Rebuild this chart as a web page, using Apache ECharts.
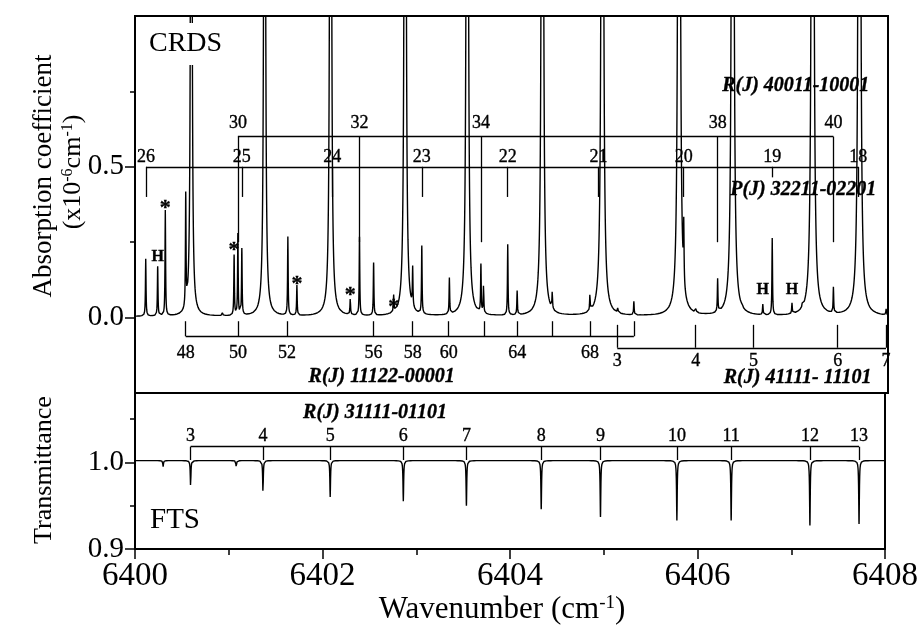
<!DOCTYPE html>
<html><head><meta charset="utf-8">
<script src="https://cdn.jsdelivr.net/npm/echarts@6/dist/echarts.min.js"></script>
<style>html,body{margin:0;padding:0;background:#fff}#c{width:921px;height:626px}</style>
</head><body><div id="c"></div>
<script>
// ================= DATA =================
// CRDS strong lines (off scale) : wavenumber (cm-1), estimated peak absorption
const crdsStrongPos = [6400.598, 6401.377, 6402.078, 6402.870, 6403.530, 6404.328, 6404.965, 6405.780, 6406.350, 6407.199, 6407.696];
const crdsStrongHeight = [4.2, 5.2, 5.9, 6.6, 7.3, 7.8, 9.0, 9.7, 9.7, 10.5, 10.2];
// CRDS weaker lines : wavenumber, peak absorption (x1e-6 cm-1)
const crdsWeakPos = [6400.114, 6400.241, 6400.322, 6400.539, 6400.930, 6401.053, 6401.093, 6401.135,
  6401.624, 6401.720, 6402.287, 6402.385, 6402.535, 6402.748, 6402.950, 6403.047, 6403.340, 6403.675,
  6403.703, 6403.960, 6404.060, 6404.433, 6404.833, 6405.130, 6405.300, 6405.830, 6405.960, 6406.190,
  6406.450, 6406.670, 6406.770, 6406.980, 6407.090, 6407.420, 6407.980];
const crdsWeakHeight = [0.19, 0.164, 0.35, 0.37, 0.012, 0.20, 0.27, 0.22,
  0.26, 0.10, 0.055, 0.26, 0.175, 0.055, 0.13, 0.225, 0.12, 0.16,
  0.095, 0.235, 0.08, 0.058, 0.055, 0.018, 0.045, 0.19, 0.015, 0.11,
  0.015, 0.035, 0.255, 0.035, 0.015, 0.085, 0.02];
const crdsBaseline = 0.004;

// FTS transmittance dips : wavenumber, minimum transmittance
const ftsDipPos = [6400.300, 6400.593, 6401.080, 6401.365, 6402.082, 6402.862, 6403.535, 6404.333, 6404.965, 6405.780, 6406.359, 6407.199, 6407.723];
const ftsDipMin = [0.995, 0.972, 0.994, 0.965, 0.960, 0.955, 0.950, 0.946, 0.937, 0.933, 0.933, 0.927, 0.929];
const ftsBaseline = 1.002;

// Assignment combs
const r40011J = ['30', '32', '34', '38', '40'];
const r40011Pos = [6401.093, 6402.385, 6403.675, 6406.190, 6407.420];
const p32211J = ['26', '25', '24', '23', '22', '21', '20', '19', '18'];
const p32211Pos = [6400.117, 6401.135, 6402.095, 6403.047, 6403.960, 6404.925, 6405.830, 6406.770, 6407.683];
const r11122J = ['48', '50', '52', '56', '58', '60', '', '64', '', '68', ''];
const r11122Pos = [6400.539, 6401.093, 6401.614, 6402.535, 6402.950, 6403.333, 6403.706, 6404.060, 6404.433, 6404.833, 6405.300];
const r41111J = ['3', '4', '5', '6', '7'];
const r41111Pos = [6405.124, 6405.957, 6406.571, 6407.465, 6407.979];
const r31111J = ['3', '4', '5', '6', '7', '8', '9', '10', '11', '12', '13'];
const r31111Pos = [6400.593, 6401.365, 6402.082, 6402.862, 6403.535, 6404.333, 6404.965, 6405.780, 6406.359, 6407.199, 6407.723];

// Band titles
const topTitles = ['R(J) 40011-10001', 'P(J) 32211-02201', 'R(J) 11122-00001', 'R(J) 41111- 11101'];
const topTitleX = [6407.02, 6407.10, 6402.62, 6407.04];
const topTitleY = [0.768, 0.423, -0.198, -0.200];
const ftsTitle = 'R(J) 31111-01101';
const ftsTitleX = 6402.56, ftsTitleY = 1.057;

// Markers (* impurity, H hot lines)
const starPos = [6400.322, 6401.053, 6401.720, 6402.287, 6402.748];
const starY = [0.377, 0.235, 0.125, 0.086, 0.049];
const hPos = [6400.241, 6406.670, 6406.980];
const hY = [0.200, 0.0925, 0.0925];

// ================= BUILD =================
const FONT = 'Liberation Serif';
const G_STRONG = 0.006, G_WEAK = 0.0036, G_FTS = 0.004;
function lor(x, p, g) { const d = x - p; return g * g / (d * d + g * g); }

let xs = [];
for (let i = 0; i <= 4000; i++) xs.push(+(6400 + i * 0.002).toFixed(4));
xs = xs.concat(crdsStrongPos, crdsWeakPos, ftsDipPos);
xs.sort((a, b) => a - b);
xs = xs.filter((v, i) => i === 0 || v - xs[i - 1] > 1e-7);

const crdsData = xs.map(x => {
  let y = crdsBaseline;
  for (let i = 0; i < crdsStrongPos.length; i++) y += crdsStrongHeight[i] * lor(x, crdsStrongPos[i], G_STRONG);
  for (let i = 0; i < crdsWeakPos.length; i++) y += crdsWeakHeight[i] * lor(x, crdsWeakPos[i], G_WEAK);
  return [x, y];
});
const ftsData = xs.map(x => {
  let y = ftsBaseline;
  for (let i = 0; i < ftsDipPos.length; i++) y -= (ftsBaseline - ftsDipMin[i]) * lor(x, ftsDipPos[i], G_FTS);
  return [x, y];
});

// comb geometry in data units
function comb(pos, bar, tickEnd, tickFn) {
  const segs = [[{ coord: [pos[0], bar] }, { coord: [pos[pos.length - 1], bar] }]];
  pos.forEach((p, i) => segs.push([{ coord: [p, bar] }, { coord: [p, tickFn ? tickFn(i) : tickEnd] }]));
  return segs;
}
const topSegs = [].concat(
  comb(r40011Pos, 0.6, 0.25),
  comb(p32211Pos, 0.5, 0.4, i => p32211J[i] === '19' ? 0.465 : 0.4),
  comb(r11122Pos, -0.062, -0.012),
  comb(r41111Pos, -0.1, -0.024)
);
const botSegs = comb(r31111Pos, 1.018, 1.0027);

function labelPts(names, pos, y) { return names.map((n, i) => ({ name: n, value: [pos[i], y] })); }
const numLabelsTop = [].concat(
  labelPts(r40011J, r40011Pos, 0.645),
  labelPts(p32211J, p32211Pos, 0.532),
  labelPts(r11122J, r11122Pos, -0.118).filter(d => d.name),
  labelPts(r41111J, r41111Pos, -0.146)
);
const numLabelsBot = labelPts(r31111J, r31111Pos, 1.0296);

function textSeries(data, xi, yi, lab, z) {
  return {
    type: 'scatter', xAxisIndex: xi, yAxisIndex: yi, data: data, symbolSize: 0, z: z || 5,
    itemStyle: { color: '#000', opacity: 1 }, silent: true, clip: false,
    label: Object.assign({ show: true, position: 'inside', formatter: '{b}', color: '#000', opacity: 1,
      textBorderColor: '#000', textBorderWidth: 0.35, fontFamily: FONT }, lab),
    emphasis: { disabled: true }
  };
}

const supRich = (fs) => ({ sup: { fontSize: fs, fontFamily: FONT, color: '#000', verticalAlign: 'top', lineHeight: fs } });

const option = {
  animation: false,
  backgroundColor: '#fff',
  grid: [
    { left: 135, right: 33, top: 16, height: 377, show: true, borderColor: '#000', borderWidth: 2, backgroundColor: 'transparent' },
    { left: 135, right: 33, top: 393, height: 156, show: true, borderColor: '#000', borderWidth: 2, backgroundColor: 'transparent' }
  ],
  xAxis: [
    { gridIndex: 0, type: 'value', min: 6400, max: 6408, show: false },
    { gridIndex: 1, type: 'value', min: 6400, max: 6408, interval: 2,
      axisLine: { show: false }, splitLine: { show: false },
      axisTick: { show: true, length: 10, lineStyle: { color: '#000', width: 1.5 } },
      minorTick: { show: true, splitNumber: 2, length: 6, lineStyle: { color: '#000', width: 1.5 } },
      minorSplitLine: { show: false },
      axisLabel: { formatter: v => String(v), fontFamily: FONT, fontSize: 33, color: '#000', margin: 11, showMinLabel: true, showMaxLabel: true },
      name: 'Wavenumber (cm{sup|-1})', nameLocation: 'middle', nameGap: 44,
      nameTextStyle: { fontFamily: FONT, fontSize: 31, color: '#000', padding: [0, 16, 0, 0], rich: supRich(19) } }
  ],
  yAxis: [
    { gridIndex: 0, type: 'value', min: -0.25, max: 1.0, interval: 0.25, position: 'left',
      axisLine: { show: false }, splitLine: { show: false },
      axisTick: { show: true, length: 10, customValues: [0, 0.5], lineStyle: { color: '#000', width: 1.5 } },
      axisLabel: { customValues: [0, 0.5], formatter: v => (Math.abs(v) < 1e-9 || Math.abs(v - 0.5) < 1e-9) ? v.toFixed(1) : '', fontFamily: FONT, fontSize: 29, color: '#000', margin: 11 } },
    { gridIndex: 0, type: 'value', min: -0.25, max: 1.0, interval: 0.25, position: 'left', offset: 0,
      axisLine: { show: false }, splitLine: { show: false }, axisLabel: { show: false },
      axisTick: { show: true, length: 5, customValues: [0.25, 0.75], lineStyle: { color: '#000', width: 1.5 } } },
    { gridIndex: 1, type: 'value', min: 0.9, max: 1.08, interval: 0.05, position: 'left',
      axisLine: { show: false }, splitLine: { show: false },
      axisTick: { show: true, length: 10, customValues: [0.9, 1.0], lineStyle: { color: '#000', width: 1.5 } },
      axisLabel: { customValues: [0.9, 1.0], formatter: v => (Math.abs(v - 0.9) < 1e-9 || Math.abs(v - 1) < 1e-9) ? v.toFixed(1) : '', fontFamily: FONT, fontSize: 29, color: '#000', margin: 11 } },
    { gridIndex: 1, type: 'value', min: 0.9, max: 1.08, interval: 0.05, position: 'left', offset: 0,
      axisLine: { show: false }, splitLine: { show: false }, axisLabel: { show: false },
      axisTick: { show: true, length: 5, customValues: [0.95, 1.05], lineStyle: { color: '#000', width: 1.5 } } }
  ],
  series: [
    { type: 'line', name: 'CRDS', xAxisIndex: 0, yAxisIndex: 0, data: crdsData, showSymbol: false, symbol: 'none',
      lineStyle: { color: '#000', width: 1.4 }, clip: true, silent: true, z: 3,
      markLine: { silent: true, symbol: ['none', 'none'], animation: false, label: { show: false },
        lineStyle: { color: '#000', width: 1.3, type: 'solid' }, emphasis: { disabled: true }, data: topSegs } },
    { type: 'line', name: 'FTS', xAxisIndex: 1, yAxisIndex: 2, data: ftsData, showSymbol: false, symbol: 'none',
      lineStyle: { color: '#000', width: 1.4 }, clip: true, silent: true, z: 3,
      markLine: { silent: true, symbol: ['none', 'none'], animation: false, label: { show: false },
        lineStyle: { color: '#000', width: 1.3, type: 'solid' }, emphasis: { disabled: true }, data: botSegs } },
    textSeries(numLabelsTop, 0, 0, { fontSize: 18 }),
    textSeries(numLabelsBot, 1, 2, { fontSize: 18 }),
    textSeries(topTitles.map((t, i) => ({ name: t, value: [topTitleX[i], topTitleY[i]] })), 0, 0,
      { fontSize: 20, fontWeight: 'bold', fontStyle: 'italic' }),
    textSeries([{ name: ftsTitle, value: [ftsTitleX, ftsTitleY] }], 1, 2,
      { fontSize: 20, fontWeight: 'bold', fontStyle: 'italic' }),
    textSeries(starPos.map((p, i) => ({ name: '*', value: [p, starY[i]] })), 0, 0,
      { fontSize: 22, fontWeight: 'bold', offset: [0, 4] }),
    textSeries(hPos.map((p, i) => ({ name: 'H', value: [p, hY[i]] })), 0, 0,
      { fontSize: 16, fontWeight: 'bold' })
  ],
  graphic: [
    { type: 'text', z: 100, x: 147, y: 44, style: { text: 'CRDS', fontFamily: FONT, fontSize: 28, fill: '#000',
      verticalAlign: 'middle', align: 'left', backgroundColor: '#fff', padding: [5, 2, 9, 2] } },
    { type: 'text', z: 100, x: 150, y: 520, style: { text: 'FTS', fontFamily: FONT, fontSize: 29, fill: '#000',
      verticalAlign: 'middle', align: 'left' } },
    { type: 'text', z: 100, x: 44, y: 176, rotation: Math.PI / 2, style: { text: 'Absorption coefficient', fontFamily: FONT, fontSize: 27, fill: '#000',
      verticalAlign: 'middle', align: 'center' } },
    { type: 'text', z: 100, x: 73, y: 172, rotation: Math.PI / 2, style: { text: '(x10{sup|-6}cm{sup|-1})', fontFamily: FONT, fontSize: 26, fill: '#000',
      verticalAlign: 'middle', align: 'center', rich: supRich(16) } },
    { type: 'text', z: 100, x: 44, y: 470, rotation: Math.PI / 2, style: { text: 'Transmittance', fontFamily: FONT, fontSize: 26, fill: '#000',
      verticalAlign: 'middle', align: 'center' } }
  ]
};

const chart = echarts.init(document.getElementById('c'), null, { renderer: 'canvas' });
chart.setOption(option);
</script>
</body></html>
